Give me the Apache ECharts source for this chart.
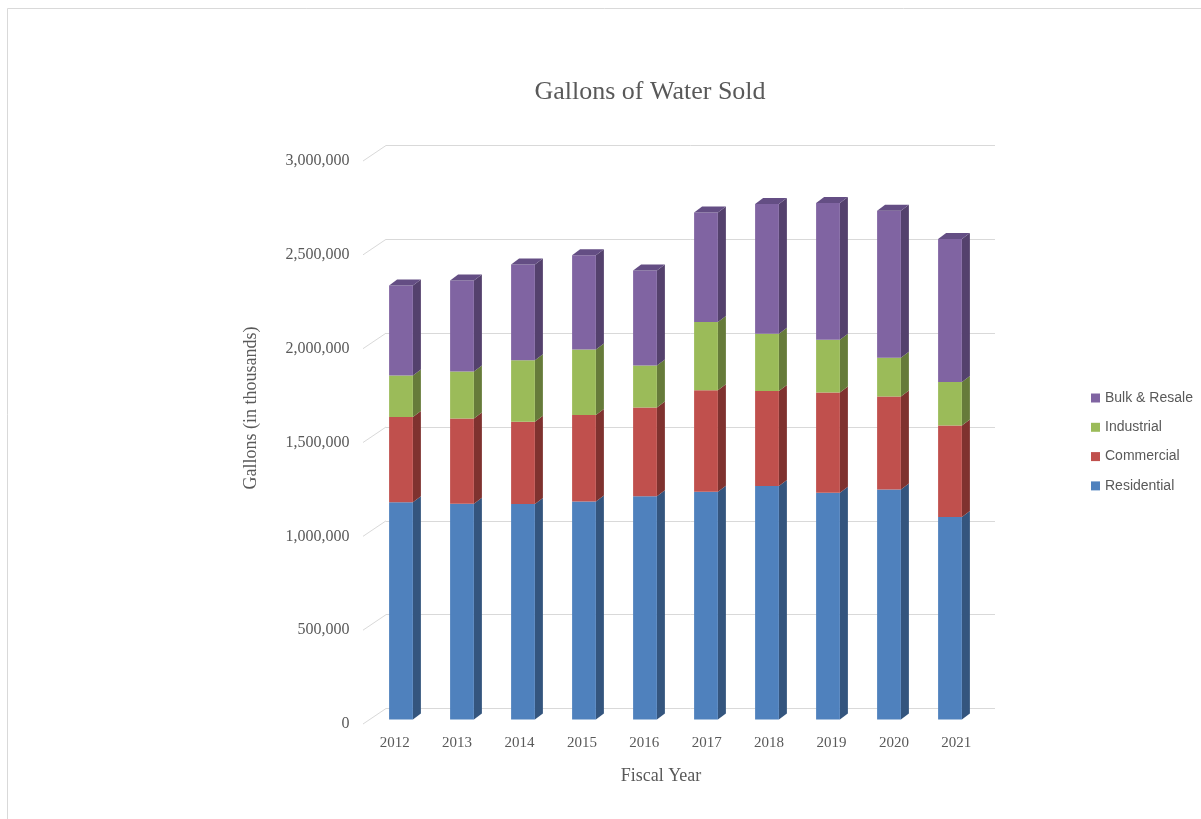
<!DOCTYPE html>
<html>
<head>
<meta charset="utf-8">
<title>Gallons of Water Sold</title>
<script src="https://cdn.jsdelivr.net/npm/echarts@6/dist/echarts.min.js"></script>
<style>
  html, body { margin: 0; padding: 0; background: #ffffff; }
  #chart { width: 1201px; height: 819px; }
</style>
</head>
<body>
<div id="chart"></div>
<script>
// Fiscal years and gallons sold per customer class (thousands of gallons)
const years = ['2012', '2013', '2014', '2015', '2016', '2017', '2018', '2019', '2020', '2021'];
const residential = [1157000, 1150000, 1148000, 1161000, 1189000, 1214000, 1244000, 1208000, 1226000, 1079000];
const commercial  = [455000, 454000, 438000, 462000, 473000, 540000, 507000, 534000, 495000, 488000];
const industrial  = [221000, 251000, 328000, 348000, 224000, 364000, 305000, 282000, 207000, 232000];
const bulkResale  = [480000, 484000, 510000, 503000, 506000, 584000, 691000, 728000, 783000, 762000];
const yTicks = [0, 500000, 1000000, 1500000, 2000000, 2500000, 3000000];

const TEXT = '#595959';
const SERIF = 'Liberation Serif';
const DEPTH_X = 8;   // box depth, horizontal component
const DEPTH_Y = 6;   // box depth, vertical component

// stacking order bottom -> top, with front / side / top face colours
const layers = [
  { name: 'Residential',   values: residential, front: '#4F81BD', side: '#34557E', top: '#3F6797' },
  { name: 'Commercial',    values: commercial,  front: '#C0504D', side: '#7F322F', top: '#9A403D' },
  { name: 'Industrial',    values: industrial,  front: '#9BBB59', side: '#667B3A', top: '#7C9647' },
  { name: 'Bulk & Resale', values: bulkResale,  front: '#8064A2', side: '#54416D', top: '#644E84' }
];

// running base of each layer
const bases = layers.map((layer, li) =>
  years.map((_, i) => layers.slice(0, li).reduce((s, l) => s + l.values[i], 0)));

function boxSeries(layer, li) {
  const isTop = li === layers.length - 1;
  return {
    name: layer.name,
    type: 'custom',
    xAxisIndex: 2,
    yAxisIndex: 2,
    itemStyle: { color: layer.front },
    encode: { x: 0, y: [1, 2] },
    data: years.map((_, i) => [i, bases[li][i], bases[li][i] + layer.values[i]]),
    renderItem: function (params, api) {
      const idx = api.value(0);
      const pBase = api.coord([idx, api.value(1)]);
      const pTop = api.coord([idx, api.value(2)]);
      const w = api.size([1, 0])[0] * 0.39;
      const x0 = pBase[0] - w / 2;
      const x1 = x0 + w;
      const yb = pBase[1];
      const yt = pTop[1];
      const children = [
        {
          type: 'polygon',
          shape: { points: [[x1, yt], [x1 + DEPTH_X, yt - DEPTH_Y], [x1 + DEPTH_X, yb - DEPTH_Y], [x1, yb]] },
          style: { fill: layer.side }
        },
        {
          type: 'rect',
          shape: { x: x0, y: yt, width: w, height: yb - yt },
          style: { fill: layer.front }
        }
      ];
      if (isTop) {
        children.push({
          type: 'polygon',
          shape: { points: [[x0, yt], [x0 + DEPTH_X, yt - DEPTH_Y], [x1 + DEPTH_X, yt - DEPTH_Y], [x1, yt]] },
          style: { fill: layer.top }
        });
      }
      return { type: 'group', children: children };
    }
  };
}

// short slanted lines joining the front value scale to the back-wall gridlines
const wallEdges = {
  type: 'custom',
  xAxisIndex: 1,
  yAxisIndex: 1,
  silent: true,
  encode: { x: 0, y: 1 },
  data: yTicks.map(v => [0, v]),
  renderItem: function (params, api) {
    const p = api.coord([0, api.value(1)]);
    const xb = params.coordSys.x;
    return {
      type: 'line',
      shape: { x1: xb, y1: p[1], x2: xb - 23, y2: p[1] + 15.5 },
      style: { stroke: '#d9d9d9', lineWidth: 1 }
    };
  }
};

const chart = echarts.init(document.getElementById('chart'), null, { renderer: 'canvas' });

chart.setOption({
  animation: false,
  backgroundColor: '#ffffff',
  title: {
    text: 'Gallons of Water Sold',
    left: 645,
    top: 74,
    textAlign: 'center',
    textStyle: { fontFamily: SERIF, fontSize: 26, fontWeight: 'normal', color: TEXT }
  },
  legend: {
    orient: 'vertical',
    left: 1091,
    top: 390,
    padding: 0,
    icon: 'rect',
    itemWidth: 9,
    itemHeight: 9,
    itemGap: 13.3,
    selectedMode: false,
    data: ['Bulk & Resale', 'Industrial', 'Commercial', 'Residential'],
    textStyle: { fontFamily: 'Liberation Sans', fontSize: 14, lineHeight: 16, color: TEXT }
  },
  grid: [
    // front plane: value scale and year labels
    { left: 363.5, top: 161, width: 624, height: 563 },
    // back wall: gridlines
    { left: 386, top: 145.5, width: 609, height: 563 },
    // plane of the bar faces
    { left: 370.5, top: 156.5, width: 610, height: 563 }
  ],
  xAxis: [
    {
      gridIndex: 0, type: 'category', data: years,
      axisLine: { show: false }, axisTick: { show: false }, splitLine: { show: false },
      axisLabel: { margin: 12, fontFamily: SERIF, fontSize: 15, color: TEXT }
    },
    { gridIndex: 1, type: 'category', data: years, show: false },
    { gridIndex: 2, type: 'category', data: years, show: false }
  ],
  yAxis: [
    {
      gridIndex: 0, type: 'value', min: 0, max: 3000000, interval: 500000,
      axisLine: { show: false }, axisTick: { show: false }, splitLine: { show: false },
      axisLabel: {
        margin: 14, fontFamily: SERIF, fontSize: 16, color: TEXT,
        formatter: v => v.toLocaleString('en-US')
      }
    },
    {
      gridIndex: 1, type: 'value', min: 0, max: 3000000, interval: 500000,
      axisLine: { show: false }, axisTick: { show: false }, axisLabel: { show: false },
      splitLine: { show: true, lineStyle: { color: '#d9d9d9', width: 1 } }
    },
    { gridIndex: 2, type: 'value', min: 0, max: 3000000, interval: 500000, show: false }
  ],
  graphic: [
    {
      type: 'rect', silent: true,
      shape: { x: 7.5, y: 8.5, width: 1300, height: 900 },
      style: { fill: 'none', stroke: '#d9d9d9', lineWidth: 1 }
    },
    {
      type: 'text', silent: true,
      x: 251, y: 408, rotation: Math.PI / 2,
      style: {
        text: 'Gallons (in thousands)', fontFamily: SERIF, fontSize: 18, fill: TEXT,
        align: 'center', verticalAlign: 'middle'
      }
    },
    {
      type: 'text', silent: true,
      x: 661, y: 776,
      style: {
        text: 'Fiscal Year', fontFamily: SERIF, fontSize: 18, fill: TEXT,
        align: 'center', verticalAlign: 'middle'
      }
    }
  ],
  series: [wallEdges].concat(layers.map(boxSeries))
});
</script>
</body>
</html>
